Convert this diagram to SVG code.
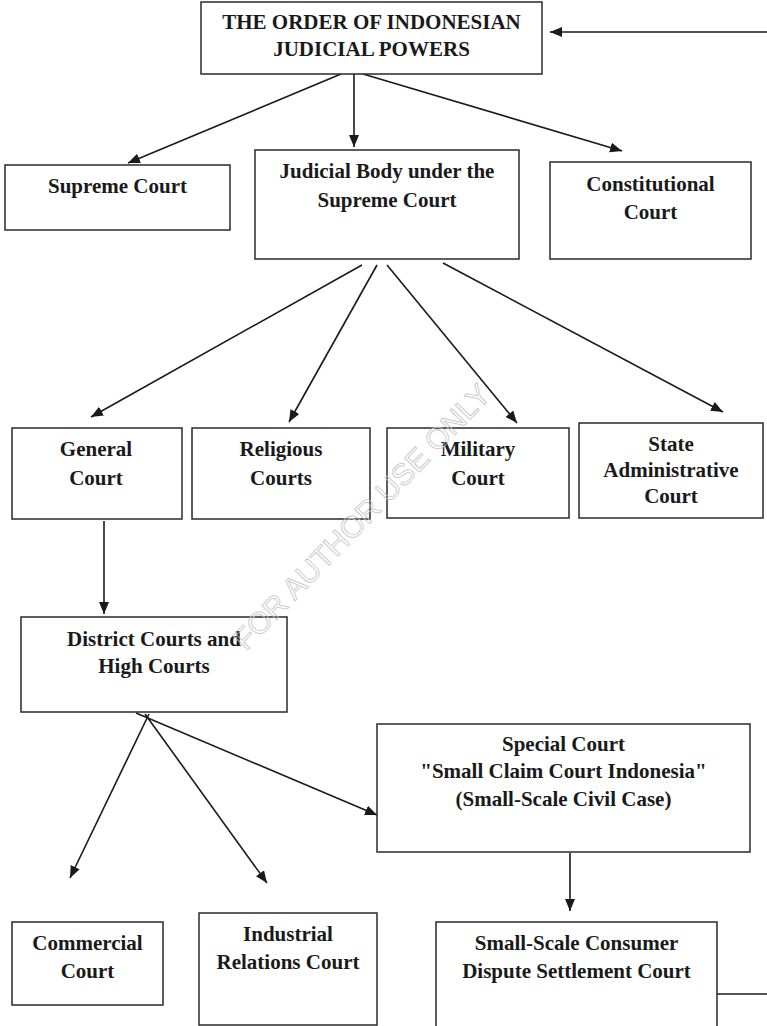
<svg xmlns="http://www.w3.org/2000/svg" width="767" height="1026" viewBox="0 0 767 1026">
<style>
.box{fill:#fff;stroke:#2a2a2a;stroke-width:1.5}
.t{font-family:"Liberation Serif","Times New Roman",serif;font-weight:bold;font-size:21px;fill:#1a1a1a;text-anchor:middle}
.c{stroke:#1a1a1a;stroke-width:1.6;fill:none}
.a{marker-end:url(#ah)}
.wm{font-family:"Liberation Sans",Arial,sans-serif;font-size:30px;fill:none;stroke:#c4c4c4;stroke-width:0.8;text-anchor:middle}
</style>
<defs>
<marker id="ah" markerUnits="userSpaceOnUse" markerWidth="13" markerHeight="11" refX="12" refY="5" orient="auto">
<path d="M0,0 L12,5 L0,10 z" fill="#1a1a1a"/>
</marker>
</defs>
<rect width="767" height="1026" fill="#fff"/>
<g id="connectors">
<line class="c a" x1="767" y1="32" x2="550" y2="32"/>
<line class="c a" x1="341" y1="74" x2="128" y2="163"/>
<line class="c a" x1="354" y1="74" x2="354" y2="147"/>
<line class="c a" x1="363" y1="74" x2="622" y2="151"/>
<line class="c a" x1="362" y1="265" x2="91" y2="417"/>
<line class="c a" x1="377" y1="265" x2="289" y2="422"/>
<line class="c a" x1="387" y1="265" x2="517" y2="423"/>
<line class="c a" x1="443" y1="263" x2="723" y2="412"/>
<line class="c a" x1="104" y1="521" x2="104" y2="614"/>
<line class="c a" x1="149" y1="714" x2="70" y2="878"/>
<line class="c a" x1="145" y1="714" x2="267" y2="883"/>
<line class="c a" x1="136" y1="713" x2="377" y2="815"/>
<line class="c a" x1="570" y1="853" x2="570" y2="911"/>
<line class="c" x1="711" y1="994" x2="767" y2="994"/>
</g>
<g id="n-top">
<rect class="box" x="201" y="2" width="341" height="72"/>
<text class="t" x="371.5" y="29">THE ORDER OF INDONESIAN</text>
<text class="t" x="371.5" y="56">JUDICIAL POWERS</text>
</g>
<g id="n-supreme">
<rect class="box" x="5" y="165" width="225" height="65"/>
<text class="t" x="117.5" y="193">Supreme Court</text>
</g>
<g id="n-judicial">
<rect class="box" x="255" y="150" width="264" height="109"/>
<text class="t" x="387" y="178">Judicial Body under the</text>
<text class="t" x="387" y="207">Supreme Court</text>
</g>
<g id="n-constitutional">
<rect class="box" x="550" y="162" width="201" height="97"/>
<text class="t" x="650.5" y="191">Constitutional</text>
<text class="t" x="650.5" y="219">Court</text>
</g>
<g id="n-general">
<rect class="box" x="12" y="428" width="170" height="91"/>
<text class="t" x="96" y="456">General</text>
<text class="t" x="96" y="485">Court</text>
</g>
<g id="n-religious">
<rect class="box" x="192" y="428" width="178" height="91"/>
<text class="t" x="281" y="456">Religious</text>
<text class="t" x="281" y="485">Courts</text>
</g>
<g id="n-military">
<rect class="box" x="387" y="428" width="182" height="90"/>
<text class="t" x="478" y="456">Military</text>
<text class="t" x="478" y="485">Court</text>
</g>
<g id="n-state">
<rect class="box" x="579" y="423" width="184" height="95"/>
<text class="t" x="671" y="451">State</text>
<text class="t" x="671" y="477">Administrative</text>
<text class="t" x="671" y="503">Court</text>
</g>
<g id="n-district">
<rect class="box" x="21" y="617" width="266" height="95"/>
<text class="t" x="154" y="646">District Courts and</text>
<text class="t" x="154" y="673">High Courts</text>
</g>
<g id="n-special">
<rect class="box" x="377" y="724" width="373" height="128"/>
<text class="t" x="563.5" y="751">Special Court</text>
<text class="t" x="563.5" y="778">"Small Claim Court Indonesia"</text>
<text class="t" x="563.5" y="806">(Small-Scale Civil Case)</text>
</g>
<g id="n-commercial">
<rect class="box" x="12" y="922" width="151" height="83"/>
<text class="t" x="87.5" y="950">Commercial</text>
<text class="t" x="87.5" y="978">Court</text>
</g>
<g id="n-industrial">
<rect class="box" x="199" y="913" width="178" height="112"/>
<text class="t" x="288" y="941">Industrial</text>
<text class="t" x="288" y="969">Relations Court</text>
</g>
<g id="n-smallscale">
<rect class="box" x="436" y="922" width="281" height="110"/>
<text class="t" x="576.5" y="950">Small-Scale Consumer</text>
<text class="t" x="576.5" y="978">Dispute Settlement Court</text>
</g>
<text class="wm" x="362" y="527" transform="rotate(-46 362 517)">FOR AUTHOR USE ONLY</text>
</svg>
